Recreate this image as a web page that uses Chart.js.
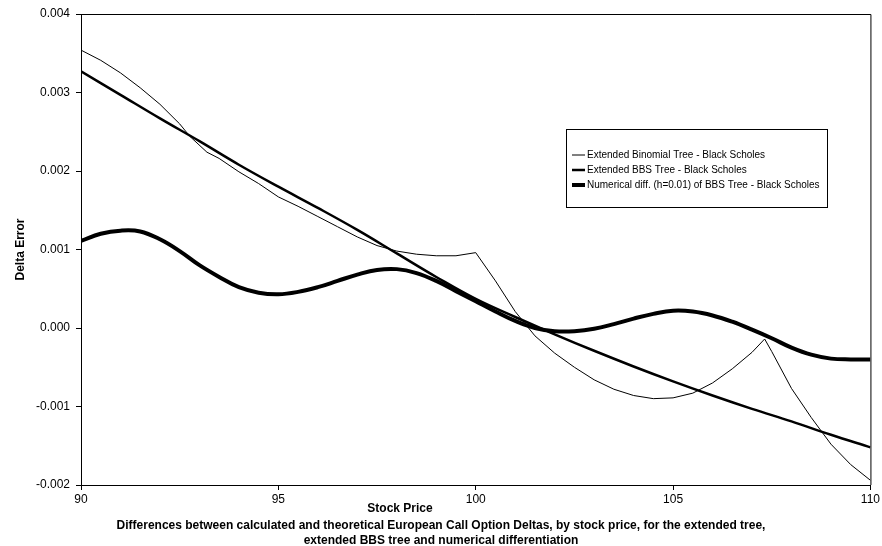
<!DOCTYPE html>
<html>
<head>
<meta charset="utf-8">
<script src="https://cdn.jsdelivr.net/npm/chart.js@4.4.0/dist/chart.umd.min.js"></script>
<style>
  html, body { margin: 0; padding: 0; background: #fff; }
  #wrap { width: 882px; height: 546px; }
</style>
</head>
<body>
<div id="wrap"><canvas id="myChart" width="882" height="546"></canvas></div>
<script>
// stock prices (x) and delta errors
const binomX = [90, 90.5, 91, 91.5, 92, 92.5, 92.76, 93.19, 93.5, 94, 94.5, 95, 95.5, 96, 96.5, 97, 97.5, 98, 98.5, 99, 99.5, 100,
                100.5, 101, 101.5, 102, 102.5, 103, 103.5, 104, 104.5, 105, 105.5, 106, 106.5, 107, 107.32,
                107.5, 108, 108.5, 109, 109.5, 110]
const binomY = [0.00354, 0.00341, 0.00325, 0.00306, 0.00285, 0.0026, 0.00244, 0.00224, 0.00216, 0.00199, 0.00184, 0.00167, 0.00155, 0.00142, 0.00129, 0.00116, 0.00105, 0.00098, 0.00094, 0.00092, 0.00092, 0.00096,
                0.0006, 0.00021, -0.0001, -0.00032, -0.0005, -0.00066, -0.00078, -0.00086, -0.0009, -0.00089, -0.00083, -0.0007, -0.00052, -0.00031, -0.00014,
                -0.0003, -0.00077, -0.00114, -0.00148, -0.00174, -0.00194]

const bbsX = [90, 91, 92, 93, 94, 95, 96, 97, 98, 99, 100, 101, 102, 103, 104, 105, 106, 107, 108, 109, 110]
const bbsY = [0.00327, 0.00297, 0.00267, 0.00238, 0.00208, 0.0018, 0.00153, 0.00125, 0.00095, 0.00065, 0.00037, 0.00014, -0.00008, -0.00029, -0.00049, -0.00068, -0.00086, -0.00103, -0.00119, -0.00136, -0.00152]

const numX = [90, 90.5, 91, 91.5, 92, 92.5, 93, 93.5, 94, 94.5, 95, 95.5, 96, 96.5, 97, 97.5, 98, 98.5, 99, 99.5, 100,
              100.5, 101, 101.5, 102, 102.5, 103, 103.5, 104, 104.5, 105, 105.5, 106, 106.5, 107, 107.5, 108, 108.5, 109, 109.5, 110]
const numY = [0.00111, 0.0012, 0.00124, 0.00123, 0.00113, 0.00098, 0.0008, 0.00065, 0.00052, 0.00045, 0.00043, 0.00046, 0.00052, 0.0006, 0.00068, 0.00074, 0.00075, 0.0007, 0.0006, 0.00047, 0.00034,
              0.00021, 0.00009, 0.0, -0.00004, -0.00004, -0.00001, 0.00005, 0.00012, 0.00018, 0.00022, 0.00021, 0.00016, 0.00008, -0.00002, -0.00013, -0.00025, -0.00034, -0.00039, -0.0004, -0.0004]

const seriesNames = ['Extended Binomial Tree - Black Scholes', 'Extended BBS Tree - Black Scholes', 'Numerical diff. (h=0.01) of BBS Tree - Black Scholes']
const xTicks = [90, 95, 100, 105, 110]
const yTicks = [-0.002, -0.001, 0.000, 0.001, 0.002, 0.003, 0.004]
const xTitle = 'Stock Price'
const yTitle = 'Delta Error'
const caption = ['Differences between calculated and theoretical European Call Option Deltas, by stock price, for the extended tree,',
                 'extended BBS tree and numerical differentiation']

const FONT = 'Arial, "Liberation Sans", sans-serif'
const toPoints = (xs, ys) => xs.map((x, i) => ({ x: x, y: ys[i] }))

// frame round the plot area, text under the axis, legend box inside the plot
const extras = {
    id: 'extras',
    afterDraw(chart) {
        const ctx = chart.ctx
        const a = chart.chartArea
        ctx.save()
        ctx.strokeStyle = '#000'
        ctx.lineWidth = 1
        ctx.beginPath()
        ctx.moveTo(a.left, a.top + 0.5)
        ctx.lineTo(a.right + 0.5, a.top + 0.5)
        ctx.lineTo(a.right + 0.5, a.bottom)
        ctx.stroke()

        ctx.fillStyle = '#000'
        ctx.font = 'bold 12px ' + FONT
        ctx.textAlign = 'center'
        ctx.textBaseline = 'middle'
        ctx.fillText(xTitle, 400, 509)
        ctx.fillText(caption[0], 441, 526)
        ctx.fillText(caption[1], 441, 541)

        // legend
        const bx = 566, by = 129, bw = 261, bh = 78
        ctx.fillStyle = '#fff'
        ctx.fillRect(bx, by, bw, bh)
        ctx.strokeRect(bx + 0.5, by + 0.5, bw, bh)
        ctx.font = '10px ' + FONT
        ctx.textAlign = 'left'
        const rows = [155, 170, 185]
        chart.data.datasets.forEach((ds, i) => {
            ctx.strokeStyle = '#000'
            ctx.lineWidth = ds.borderWidth
            ctx.beginPath()
            ctx.moveTo(572, rows[i])
            ctx.lineTo(585, rows[i])
            ctx.stroke()
            ctx.fillStyle = '#000'
            ctx.fillText(ds.label, 587, rows[i])
        })
        ctx.restore()
    }
}

const ctx = document.getElementById('myChart').getContext('2d')
const chart = new Chart(ctx, {
    type: 'line',
    data: {
        datasets: [{
            label: seriesNames[0],
            data: toPoints(binomX, binomY),
            borderColor: '#000',
            borderWidth: 1,
            tension: 0
        }, {
            label: seriesNames[1],
            data: toPoints(bbsX, bbsY),
            borderColor: '#000',
            borderWidth: 2.5,
            tension: 0.4
        }, {
            label: seriesNames[2],
            data: toPoints(numX, numY),
            borderColor: '#000',
            borderWidth: 4,
            tension: 0.4
        }]
    },
    options: {
        responsive: false,
        animation: false,
        layout: { padding: { left: 0, right: 11, top: 14, bottom: 0 } },
        elements: { point: { radius: 0 } },
        plugins: {
            legend: { display: false },
            tooltip: { enabled: false }
        },
        scales: {
            x: {
                type: 'linear',
                min: 90,
                max: 110,
                afterFit: (s) => { s.height = 61 },
                afterBuildTicks: (s) => { s.ticks = xTicks.map(v => ({ value: v })) },
                grid: { drawOnChartArea: false, drawTicks: true, tickLength: 5, color: '#000' },
                border: { color: '#000', width: 1 },
                ticks: { color: '#000', padding: 2, font: { family: FONT, size: 12 } }
            },
            y: {
                min: -0.002,
                max: 0.004,
                afterFit: (s) => { s.width = 81 },
                afterBuildTicks: (s) => { s.ticks = yTicks.map(v => ({ value: v })) },
                grid: { drawOnChartArea: false, drawTicks: true, tickLength: 5, color: '#000' },
                border: { color: '#000', width: 1 },
                ticks: { color: '#000', padding: 6, font: { family: FONT, size: 12 },
                         callback: (v) => v.toFixed(3) },
                title: { display: true, text: yTitle, color: '#000', padding: { top: 13, bottom: 0 },
                         font: { family: FONT, size: 12, weight: 'bold' } }
            }
        }
    },
    plugins: [extras]
})
</script>
</body>
</html>
